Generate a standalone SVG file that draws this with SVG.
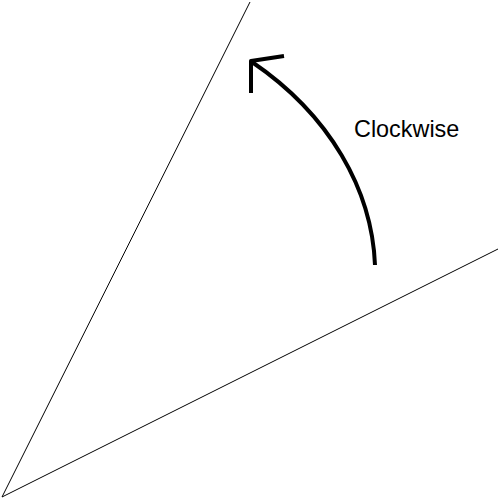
<svg xmlns="http://www.w3.org/2000/svg" width="500" height="500" viewBox="0 0 500 500">
<style>
.ray{stroke:#000;stroke-width:1;fill:none}
.arc{stroke:#000;stroke-width:4;fill:none;stroke-linecap:butt;stroke-linejoin:round}
.lbl{font-family:"Liberation Sans",Arial,sans-serif;font-size:23.4px;fill:#000}
</style>
<rect width="500" height="500" fill="#fff"/>
<g id="connectors">
<line class="ray" x1="2" y1="497" x2="250" y2="2"/>
<line class="ray" x1="2" y1="497" x2="498" y2="249"/>
<path class="arc" d="M375,265 C372,190 330,115 252,62"/>
<path class="arc" d="M284,56 L251,61 L251,93"/>
</g>
<g id="label">
<text class="lbl" x="354" y="137">Clockwise</text>
</g>
</svg>
